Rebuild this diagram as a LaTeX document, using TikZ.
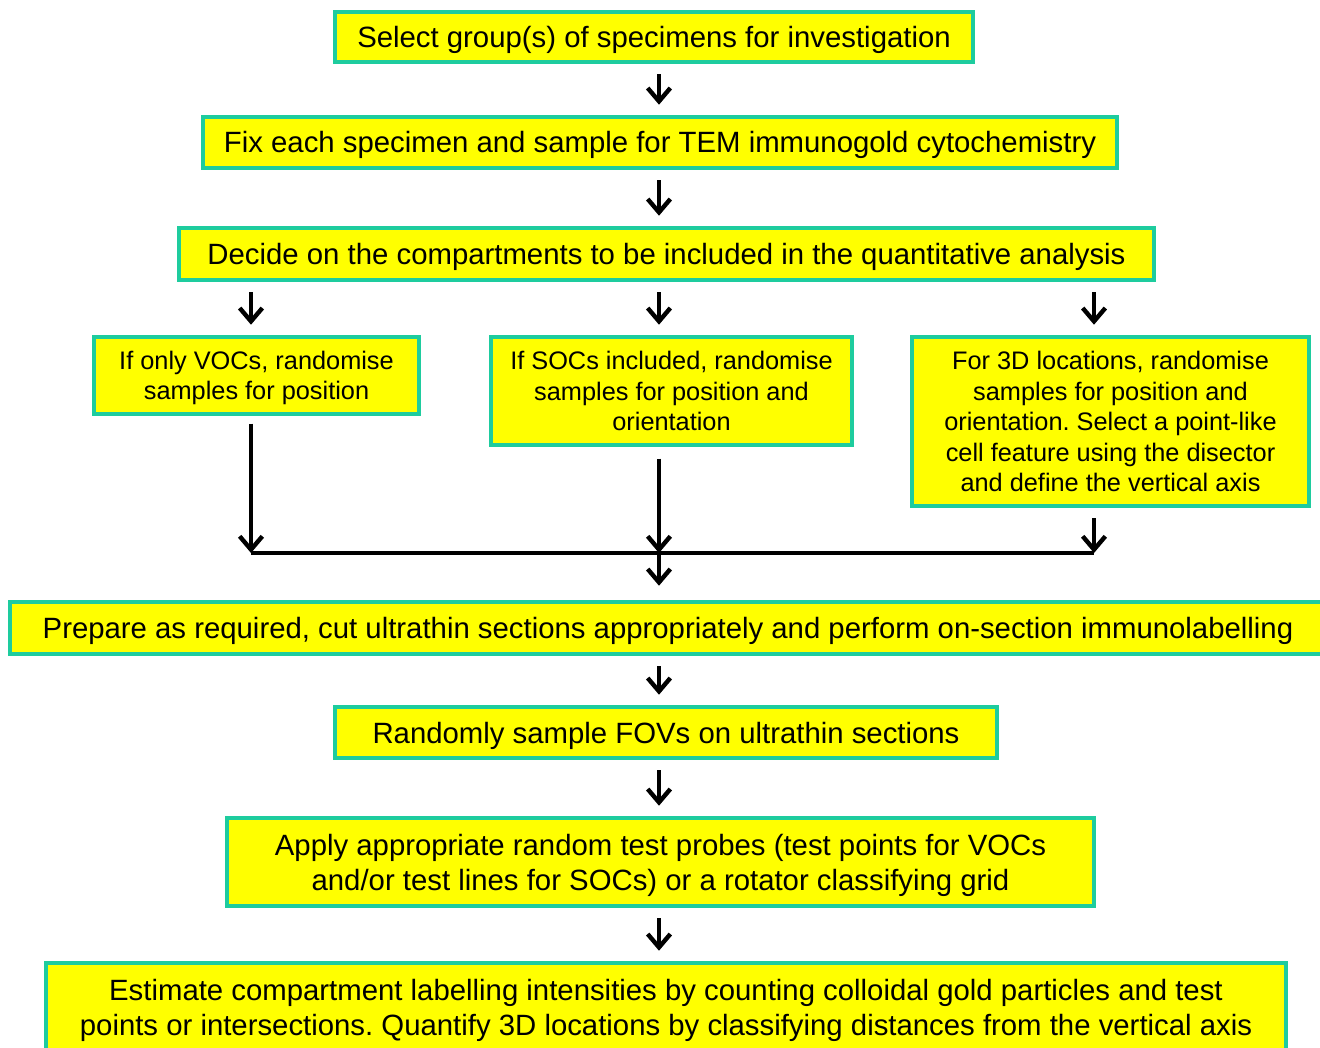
\documentclass[tikz,border=0pt]{standalone}
\usepackage{fontspec}
\setmainfont{Liberation Sans}
\usetikzlibrary{arrows.meta,calc}
\definecolor{bordc}{RGB}{30,204,158}
\definecolor{boxy}{RGB}{255,255,0}
\frenchspacing
\begin{document}
\begin{tikzpicture}[x=0.75pt,y=-0.75pt,
 box/.style={draw=bordc,fill=boxy,line width=2.4pt,inner sep=0pt,align=flush center,anchor=center,
   execute at begin node={\rule{0pt}{0.95em}},
   execute at end node={\rule[-0.234em]{0pt}{0pt}}},
 big/.style={box,font=\fontsize{22}{26.25}\selectfont},
 small/.style={box,font=\fontsize{19}{22.9}\selectfont},
 arr/.style={-{Straight Barb[length=10pt,width=17pt]}, line width=3.3pt},
 ln/.style={line width=3.3pt},
 gap/.style={shorten <=8pt, shorten >=8pt}]
\useasboundingbox (0,0) rectangle (1320,1048);
\clip (0,0) rectangle (1320,1048);
\coordinate (cL) at (251,553);
\coordinate (cM) at (659,553);
\coordinate (cR) at (1094,553);
\node[big,minimum width=478.5pt,minimum height=37.5pt,text width=474pt] (b1) at (654,37) {Select group(s) of specimens for investigation};
\node[big,minimum width=685.5pt,minimum height=38.25pt,text width=681pt] (b2) at (660,142.5) {Fix each specimen and sample for TEM immunogold cytochemistry};
\node[big,minimum width=731.25pt,minimum height=39pt,text width=727pt] (b3) at (666.5,254) {Decide on the compartments to be included in the quantitative analysis};
\node[small,minimum width=243.75pt,minimum height=57.75pt,text width=240pt] (b4) at (256.5,375.5) {If only VOCs, randomise\\samples for position};
\node[small,minimum width=270.75pt,minimum height=81pt,text width=267pt] (b5) at (671.5,391) {If SOCs included, randomise\\samples for position and\\orientation};
\node[small,minimum width=297.75pt,minimum height=126.75pt,text width=294pt] (b6) at (1110.5,421.5) {For 3D locations, randomise\\samples for position and\\orientation. Select a point-like\\cell feature using the disector\\and define the vertical axis};
\node[big,minimum width=987pt,minimum height=39pt,text width=983pt] (b7) at (668,628) {Prepare as required, cut ultrathin sections appropriately and perform on-section immunolabelling};
\node[big,minimum width=496.5pt,minimum height=38.25pt,text width=492pt] (b8) at (666,732.5) {Randomly sample FOVs on ultrathin sections};
\node[big,minimum width=650.25pt,minimum height=66pt,text width=646pt] (b9) at (660.5,862) {Apply appropriate random test probes (test points for VOCs\\and/or test lines for SOCs) or a rotator classifying grid};
\node[big,minimum width=930pt,minimum height=66.75pt,text width=926pt] (b10) at (666,1007.5) {Estimate compartment labelling intensities by counting colloidal gold particles and test\\points or intersections. Quantify 3D locations by classifying distances from the vertical axis};
\draw[arr,gap] (b1.south -| cM) -- (b2.north -| cM);
\draw[arr,gap] (b2.south -| cM) -- (b3.north -| cM);
\draw[arr,gap] (b3.south -| cL) -- (b4.north -| cL);
\draw[arr,gap] (b3.south -| cM) -- (b5.north -| cM);
\draw[arr,gap] (b3.south -| cR) -- (b6.north -| cR);
\draw[arr,shorten <=6pt] (b4.south -| cL) -- (cL);
\draw[arr,shorten <=9pt] (b5.south -| cM) -- (cM);
\draw[arr,shorten <=8pt] (b6.south -| cR) -- (cR);
\draw[ln] (cL) -- (cR);
\draw[arr,shorten >=11pt] (cM) -- (b7.north -| cM);
\draw[arr,gap] (b7.south -| cM) -- (b8.north -| cM);
\draw[arr,gap] (b8.south -| cM) -- (b9.north -| cM);
\draw[arr,gap] (b9.south -| cM) -- (b10.north -| cM);
\end{tikzpicture}
\end{document}
